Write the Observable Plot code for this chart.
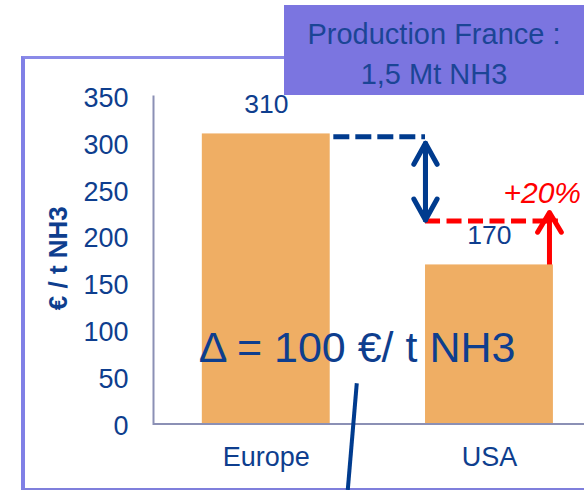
<!DOCTYPE html>
<html>
<head>
<meta charset="utf-8">
<script src="https://cdn.jsdelivr.net/npm/d3@7"></script>
<script src="https://cdn.jsdelivr.net/npm/@observablehq/plot@0.6"></script>
<style>
  html, body { margin: 0; padding: 0; background: #ffffff; }
  #wrap { position: relative; width: 584px; height: 490px; overflow: hidden; font-family: "Liberation Sans", Arial, sans-serif; }
  #frame { position: absolute; left: 21px; top: 56px; width: 620px; height: 429px;
           border-left: 4px solid #8080e6; border-top: 3px solid #8a8ae8; border-bottom: 2px solid #7f7fdc; }
  #chart { position: absolute; left: 0; top: 0; }
  #box { position: absolute; left: 284px; top: 5px; width: 300px; height: 81px; padding-top: 9px;
         background: #7b75e0; color: #1b4596; font-size: 29px; line-height: 40px; text-align: center; }
</style>
</head>
<body>
<div id="wrap">
  <div id="frame"></div>
  <div id="chart"></div>
  <div id="box"></div>
</div>
<script>
// ---- data ----
const categories = ["Europe", "USA"];
const costs = [310, 170];
const yTicks = [0, 50, 100, 150, 200, 250, 300, 350];
const yLabel = "€ / t NH3";
const titleLines = ["Production France :", "1,5 Mt NH3"];
const deltaText = "Δ = 100 €/ t NH3";
const deltaLevel = [81];          // where the Δ note sits (€/t)
const leaderLevels = [43, -71];   // leader line from the note downwards
const europeLevel = [307];        // blue dashed reference level
const gapArrowLevels = [300, 218];// blue double arrow
const targetLevel = [217];        // red dashed target level
const riseLevels = [20, 226];     // red arrow (base hidden behind the USA bar, tip)
const increaseText = "+20%";
const increaseLevel = [246];

const data = categories.map((c, i) => ({category: c, cost: costs[i]}));

const navy = "#0e3e8e";
const arrowBlue = "#003b8e";
const red = "#ff0000";
const font = "Liberation Sans, Arial, sans-serif";

document.getElementById("box").innerHTML = titleLines.map(t => `<div>${t}</div>`).join("");

const plot = Plot.plot({
  width: 584,
  height: 490,
  marginTop: 96,
  marginBottom: 66.5,
  marginLeft: 153,
  marginRight: 0,
  style: {fontFamily: font, fontSize: "26px", color: navy, background: "transparent", overflow: "visible"},
  x: {domain: categories, paddingInner: 0.427, paddingOuter: 0.179, align: 0.611, round: false, label: null},
  y: {domain: [0, 350], label: null},
  marks: [
    // red arrow rising from the USA bar (lower part hidden behind the bar)
    Plot.arrow([riseLevels], {x: () => "USA", y1: d => d[0], y2: d => d[1], dx: 60, stroke: red, strokeWidth: 5, headLength: 6.9, headAngle: 62}),
    Plot.barY(data, {x: "category", y: "cost", fill: "#efae64"}),
    Plot.ruleY([0], {stroke: "#8b90b5", strokeWidth: 2}),
    Plot.frame({anchor: "left", stroke: "#8b90b5", strokeWidth: 2}),
    Plot.axisY({ticks: yTicks, tickSize: 0, tickPadding: 25, tickFormat: d => String(d), fontSize: 27, dy: 2, fill: navy, label: null}),
    Plot.axisX({tickSize: 0, tickPadding: 23, fontSize: 27, fill: navy, label: null}),
    Plot.text([yLabel], {frameAnchor: "left", rotate: -90, dx: -95, dy: 50, fontWeight: "bold", fontSize: 26, fill: navy}),
    Plot.text(data, {x: "category", y: "cost", text: d => String(d.cost), dy: -29, fontSize: 26.5, fill: navy}),
    // blue dashed level from Europe to USA
    Plot.ruleY(europeLevel, {x1: () => "Europe", x2: () => "USA", insetLeft: 131.5, insetRight: 127.9,
      stroke: arrowBlue, strokeWidth: 5, strokeDasharray: "16,6"}),
    // red dashed target level over USA
    Plot.ruleY(targetLevel, {x1: () => "USA", x2: () => "USA", insetLeft: 0, insetRight: -5,
      stroke: red, strokeWidth: 5, strokeDasharray: "15,6.5"}),
    // blue double arrow
    Plot.arrow([gapArrowLevels], {x: () => "USA", y1: d => d[1], y2: d => d[0], dx: -64, stroke: arrowBlue, strokeWidth: 5, headLength: 7.2, headAngle: 58}),
    Plot.arrow([gapArrowLevels], {x: () => "USA", y1: d => d[0], y2: d => d[1], dx: -64, stroke: arrowBlue, strokeWidth: 5, headLength: 7.2, headAngle: 58}),
    Plot.text([increaseText], {x: () => "USA", y: () => increaseLevel[0], dx: 14, textAnchor: "start", fontSize: 30, fontStyle: "italic", fill: red}),
    Plot.text([deltaText], {x: () => "Europe", y: () => deltaLevel[0], dx: 90.75, fontSize: 43, fill: navy})
  ]
});

// leader line from the Δ note, drawn with the plot's own scales
const sx = plot.scale("x"), sy = plot.scale("y");
const cx = sx.apply("Europe") + sx.bandwidth / 2;
d3.select(plot).append("line")
  .attr("x1", cx + 91).attr("y1", sy.apply(leaderLevels[0]))
  .attr("x2", cx + 82).attr("y2", sy.apply(leaderLevels[1]))
  .attr("stroke", arrowBlue).attr("stroke-width", 4);

document.getElementById("chart").appendChild(plot);
</script>
</body>
</html>
